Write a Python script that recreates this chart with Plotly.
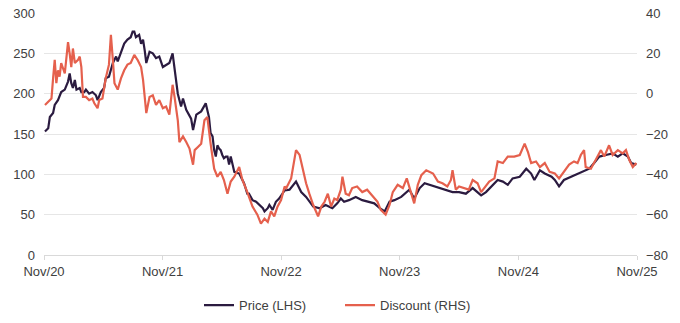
import plotly.graph_objects as go

# Share price (LHS, pence) and discount to NAV (RHS, %)
price_dates = [
    "2020-11-04", "2020-11-14", "2020-11-19", "2020-11-29", "2020-12-04", "2020-12-14",
    "2020-12-24", "2021-01-04", "2021-01-14", "2021-01-19", "2021-01-24", "2021-01-29",
    "2021-02-04", "2021-02-09", "2021-02-19", "2021-02-24", "2021-03-05", "2021-03-10",
    "2021-03-20", "2021-03-30", "2021-04-10", "2021-04-15", "2021-04-25", "2021-05-05",
    "2021-05-10", "2021-05-20", "2021-06-01", "2021-06-11", "2021-06-16", "2021-06-26",
    "2021-07-06", "2021-07-16", "2021-07-26", "2021-08-01", "2021-08-06", "2021-08-11",
    "2021-08-21", "2021-08-27", "2021-09-02", "2021-09-07", "2021-09-12", "2021-09-22",
    "2021-10-02", "2021-10-12", "2021-10-22", "2021-11-02", "2021-11-12", "2021-11-22",
    "2021-12-02", "2021-12-13", "2021-12-18", "2021-12-28", "2022-01-03", "2022-01-13",
    "2022-01-28", "2022-02-03", "2022-02-13", "2022-02-28", "2022-03-14", "2022-03-24",
    "2022-03-29", "2022-04-04", "2022-04-09", "2022-04-14", "2022-04-19", "2022-04-24",
    "2022-04-29", "2022-05-04", "2022-05-09", "2022-05-15", "2022-05-20", "2022-05-25",
    "2022-05-30", "2022-06-10", "2022-06-25", "2022-07-10", "2022-07-20", "2022-07-25",
    "2022-08-05", "2022-08-16", "2022-08-26", "2022-09-06", "2022-09-11", "2022-09-21",
    "2022-09-26", "2022-10-06", "2022-10-16", "2022-10-26", "2022-11-12", "2022-11-27",
    "2022-12-17", "2023-01-02", "2023-01-17", "2023-02-08", "2023-02-28", "2023-03-18",
    "2023-04-08", "2023-04-23", "2023-05-04", "2023-05-14", "2023-05-29", "2023-06-19",
    "2023-07-09", "2023-07-29", "2023-08-15", "2023-09-01", "2023-09-16", "2023-10-01",
    "2023-10-16", "2023-11-06", "2023-11-16", "2023-12-01", "2023-12-16", "2024-01-02",
    "2024-01-17", "2024-02-02", "2024-02-17", "2024-03-08", "2024-03-23", "2024-04-12",
    "2024-05-02", "2024-05-23", "2024-06-13", "2024-06-28", "2024-07-09", "2024-07-24",
    "2024-08-09", "2024-08-29", "2024-09-14", "2024-09-29", "2024-10-14", "2024-11-05",
    "2024-11-25", "2024-12-10", "2024-12-20", "2025-01-06", "2025-01-21", "2025-02-11",
    "2025-02-21", "2025-03-06", "2025-03-21", "2025-04-12", "2025-05-02", "2025-05-22",
    "2025-06-07", "2025-06-22", "2025-07-08", "2025-07-28", "2025-08-18", "2025-09-03",
    "2025-09-18", "2025-10-04", "2025-10-14", "2025-10-30",
]
price_values = [
    153, 157, 171, 176, 186, 192,
    202, 205, 215, 225, 213, 207,
    217, 205, 207, 202, 202, 205,
    200, 202, 198, 192, 202, 207,
    219, 221, 238, 246, 240, 250,
    262, 267, 270, 277, 277, 270,
    273, 262, 267, 254, 238, 252,
    250, 244, 246, 233, 236, 238,
    250, 217, 200, 184, 194, 180,
    169, 155, 174, 178, 188, 171,
    151, 147, 130, 122, 136, 132,
    130, 124, 120, 122, 122, 112,
    122, 103, 101, 89, 76, 76,
    68, 66, 62, 58, 54, 58,
    62, 56, 66, 70, 80, 81,
    91, 78, 72, 60, 58, 62,
    58, 64, 70, 66, 68, 72,
    68, 66, 64, 58, 54, 66,
    68, 72, 76, 81, 70, 83,
    89, 87, 85, 83, 81, 78,
    78, 76, 83, 78, 74, 78,
    85, 93, 91, 87, 95, 97,
    107, 101, 93, 105, 101, 97,
    93, 85, 93, 97, 101, 105,
    107, 114, 122, 124, 126, 122,
    126, 122, 114, 112,
]

discount_dates = [
    "2020-11-04", "2020-11-14", "2020-11-24", "2020-11-29", "2020-12-04", "2020-12-09",
    "2020-12-14", "2020-12-19", "2020-12-24", "2021-01-04", "2021-01-14", "2021-01-19",
    "2021-01-24", "2021-01-29", "2021-02-04", "2021-02-14", "2021-02-19", "2021-02-24",
    "2021-03-01", "2021-03-10", "2021-03-20", "2021-03-30", "2021-04-05", "2021-04-15",
    "2021-04-20", "2021-04-30", "2021-05-10", "2021-05-20", "2021-05-26", "2021-06-01",
    "2021-06-06", "2021-06-16", "2021-06-26", "2021-07-06", "2021-07-16", "2021-07-26",
    "2021-08-06", "2021-08-16", "2021-08-27", "2021-09-02", "2021-09-07", "2021-09-12",
    "2021-09-22", "2021-10-02", "2021-10-12", "2021-10-22", "2021-11-02", "2021-11-12",
    "2021-11-22", "2021-12-02", "2021-12-08", "2021-12-18", "2021-12-23", "2022-01-03",
    "2022-01-13", "2022-01-23", "2022-02-03", "2022-02-08", "2022-02-18", "2022-02-28",
    "2022-03-10", "2022-03-19", "2022-03-29", "2022-04-09", "2022-04-19", "2022-04-29",
    "2022-05-09", "2022-05-20", "2022-05-30", "2022-06-10", "2022-06-25", "2022-07-05",
    "2022-07-20", "2022-08-05", "2022-08-20", "2022-08-31", "2022-09-11", "2022-09-21",
    "2022-10-01", "2022-10-11", "2022-10-21", "2022-11-01", "2022-11-12", "2022-11-17",
    "2022-12-02", "2022-12-12", "2022-12-17", "2022-12-28", "2023-01-07", "2023-01-17",
    "2023-01-27", "2023-02-08", "2023-02-23", "2023-03-05", "2023-03-15", "2023-03-25",
    "2023-04-04", "2023-04-14", "2023-04-23", "2023-05-04", "2023-05-09", "2023-05-19",
    "2023-05-29", "2023-06-08", "2023-06-23", "2023-07-09", "2023-07-24", "2023-08-08",
    "2023-08-25", "2023-09-04", "2023-09-19", "2023-10-01", "2023-10-11", "2023-10-26",
    "2023-11-11", "2023-11-23", "2023-12-01", "2023-12-16", "2023-12-27", "2024-01-07",
    "2024-01-22", "2024-02-12", "2024-02-27", "2024-03-12", "2024-03-27", "2024-04-07",
    "2024-04-12", "2024-04-22", "2024-05-02", "2024-05-17", "2024-06-01", "2024-06-13",
    "2024-06-28", "2024-07-09", "2024-07-24", "2024-08-03", "2024-08-19", "2024-08-29",
    "2024-09-14", "2024-09-29", "2024-10-19", "2024-11-05", "2024-11-20", "2024-11-30",
    "2024-12-10", "2024-12-25", "2025-01-06", "2025-01-21", "2025-02-05", "2025-02-21",
    "2025-03-06", "2025-03-21", "2025-04-06", "2025-04-21", "2025-05-02", "2025-05-12",
    "2025-05-22", "2025-05-27", "2025-06-12", "2025-06-27", "2025-07-13", "2025-07-23",
    "2025-08-07", "2025-08-18", "2025-09-03", "2025-09-18", "2025-09-28", "2025-10-08",
    "2025-10-19", "2025-10-30",
]
discount_values = [
    -5.6, -4.0, -2.4, 7.6, 16.8, 5.2,
    11.6, 8.4, 15.2, 10.0, 25.6, 20.0,
    13.2, 22.4, 15.2, 16.8, 18.4, 13.2,
    -1.6, -1.6, -3.2, -2.4, -4.8, -7.2,
    -3.2, -2.4, 7.6, 14.4, 29.2, 16.8,
    5.2, 2.0, 7.6, 11.6, 14.4, 15.2,
    19.2, 16.8, 13.2, 6.8, -3.2, -9.6,
    -1.6, -0.8, -5.6, -3.2, -7.2, -6.4,
    -10.4, 4.4, -1.6, -13.2, -24.0, -21.2,
    -24.0, -27.2, -35.2, -28.0, -26.4, -24.8,
    -13.2, -11.6, -24.8, -37.2, -41.2, -38.8,
    -42.8, -49.6, -43.6, -41.2, -36.4, -42.8,
    -48.8, -56.0, -60.0, -64.4, -62.0, -63.6,
    -58.4, -60.8, -56.0, -52.8, -46.0, -46.8,
    -42.0, -32.8, -28.0, -30.4, -38.0, -44.4,
    -49.6, -55.2, -60.8, -56.0, -53.6, -49.6,
    -56.0, -52.0, -52.8, -47.6, -41.2, -49.6,
    -50.4, -46.8, -46.0, -48.8, -47.6, -50.4,
    -53.6, -57.6, -60.0, -55.2, -48.8, -45.2,
    -46.8, -42.0, -46.0, -54.4, -45.2, -40.4,
    -38.0, -39.6, -43.6, -44.4, -46.0, -42.8,
    -38.0, -47.6, -46.0, -46.8, -47.6, -42.8,
    -44.4, -48.8, -46.0, -43.6, -42.0, -33.6,
    -34.4, -31.2, -31.2, -30.4, -24.8, -28.8,
    -34.4, -33.6, -36.4, -34.4, -38.8, -39.6,
    -42.0, -38.8, -35.2, -33.6, -34.4, -30.4,
    -28.0, -36.4, -37.2, -32.8, -28.0, -31.2,
    -25.6, -30.4, -28.0, -29.6, -28.0, -32.8,
    -36.4, -34.4,
]

x_ticks = ["2020-11-01", "2021-11-01", "2022-11-01", "2023-11-01", "2024-11-01", "2025-11-01"]
x_tick_text = ["Nov/20", "Nov/21", "Nov/22", "Nov/23", "Nov/24", "Nov/25"]

PRICE_COLOR = "#2B1B40"
DISCOUNT_COLOR = "#E5604D"
FONT = "Liberation Sans, Arial, sans-serif"

fig = go.Figure()
fig.add_trace(go.Scatter(
    x=discount_dates, y=discount_values, name="Discount (RHS)", yaxis="y2",
    mode="lines", line=dict(color=DISCOUNT_COLOR, width=2.2), legendrank=2,
))
fig.add_trace(go.Scatter(
    x=price_dates, y=price_values, name="Price (LHS)", yaxis="y",
    mode="lines", line=dict(color=PRICE_COLOR, width=2.2), legendrank=1,
))

fig.update_layout(
    width=680, height=323,
    margin=dict(l=44, r=43, t=13, b=68, autoexpand=False),
    paper_bgcolor="white", plot_bgcolor="white",
    font=dict(family=FONT, size=13, color="#404040"),
    showlegend=True,
    legend=dict(orientation="h", x=0.5, xanchor="center", xref="container",
                y=0.055, yanchor="middle", yref="container",
                entrywidth=96, entrywidthmode="pixels",
                font=dict(size=13, color="#404040"), traceorder="normal"),
    xaxis=dict(
        type="date", range=["2020-11-01", "2025-11-01"],
        tickvals=x_ticks, ticktext=x_tick_text,
        showgrid=False, showline=True, linecolor="#D9D9D9", linewidth=1,
        ticks="outside", ticklen=4, tickcolor="#D9D9D9",
        zeroline=False,
    ),
    yaxis=dict(
        range=[0, 300], dtick=50, showgrid=True, gridcolor="#E6E6E6", gridwidth=1,
        zeroline=False, showline=False, ticks="", ticklabelstandoff=8,
    ),
    yaxis2=dict(
        range=[-80, 40], dtick=20, overlaying="y", side="right", showgrid=False,
        zeroline=False, showline=False, ticks="", ticklabelstandoff=8,
    ),
)

fig.write_html("out.html")
